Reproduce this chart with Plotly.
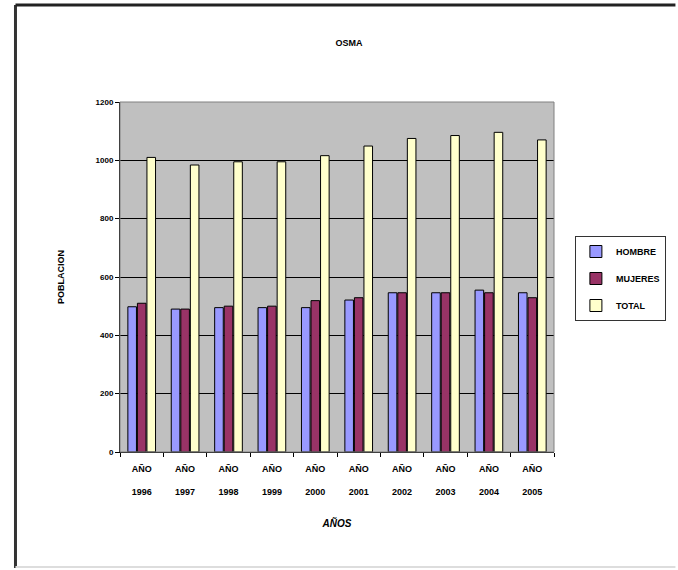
import plotly.graph_objects as go

years = ["1996", "1997", "1998", "1999", "2000", "2001", "2002", "2003", "2004", "2005"]
categories = ["AÑO " + y for y in years]
tick_labels = ["<b>AÑO</b><br>\u00a0<br><b>" + y + "</b>" for y in years]
hombre = [498, 490, 495, 495, 495, 521, 546, 546, 555, 546]
mujeres = [510, 490, 500, 500, 519, 529, 546, 546, 546, 529]
total = [1010, 984, 995, 995, 1016, 1049, 1075, 1085, 1096, 1070]

FONT = "Liberation Sans"
fig = go.Figure()
fig.add_trace(go.Bar(name="<b>HOMBRE</b>", x=categories, y=hombre, legendgroup="h",
                     marker=dict(color="#9999FF", line=dict(color="black", width=1))))
fig.add_trace(go.Bar(name="<b>MUJERES</b>", x=categories, y=mujeres, legendgroup="m",
                     marker=dict(color="#993366", line=dict(color="black", width=1))))
fig.add_trace(go.Bar(name="<b>TOTAL</b>", x=categories, y=total, legendgroup="t",
                     marker=dict(color="#FFFFCC", line=dict(color="black", width=1))))

W, H = 678, 570
L, R, T, B = 120, 122, 102, 118
pw, ph = W - L - R, H - T - B
def px(x):
    return (x - L) / pw
def py(y):
    return (H - B - y) / ph

fig.update_layout(
    width=W, height=H,
    margin=dict(l=L, r=R, t=T, b=B, pad=0),
    paper_bgcolor="white", plot_bgcolor="#C0C0C0",
    barmode="group", bargap=0.34, bargroupgap=0.1,
    font=dict(family=FONT, size=9, color="black"),
    title=dict(text="<b>OSMA</b>", x=px(350), xref="paper", xanchor="center",
               y=1 - 43 / H, yanchor="middle", font=dict(size=9)),
    showlegend=True,
    legend=dict(x=px(577), y=py(236), xanchor="left", yanchor="top",
                bordercolor="#333333", borderwidth=1, bgcolor="white",
                tracegroupgap=8, traceorder="grouped",
                font=dict(size=9, family=FONT), itemclick=False),
    xaxis=dict(showgrid=False, showline=True, linecolor="black", linewidth=1,
               ticks="outside", tickson="boundaries", ticklen=4, tickcolor="black",
               tickangle=0, tickfont=dict(size=9), ticklabelstandoff=8,
               tickvals=categories, ticktext=tick_labels,
               title=dict(text="<b><i>AÑOS</i></b>", font=dict(size=10), standoff=23),
               mirror=False),
    yaxis=dict(range=[0, 1200], dtick=200, showgrid=True, gridcolor="black", gridwidth=1,
               showline=True, linecolor="black", linewidth=1, ticks="outside",
               ticklen=4, tickcolor="black", tickfont=dict(size=8), zeroline=False,
               tickprefix="<b>", ticksuffix="</b>",
               title=dict(text="<b>POBLACION</b>", font=dict(size=9), standoff=29)),
    shapes=[
        dict(type="rect", xref="paper", yref="paper", x0=0, y0=0, x1=1, y1=1,
             line=dict(color="#808080", width=1), layer="above"),
        dict(type="line", xref="paper", yref="paper", x0=px(15), x1=px(15),
             y0=py(5), y1=py(568), line=dict(color="#333333", width=3)),
        dict(type="line", xref="paper", yref="paper", x0=px(15), x1=px(678),
             y0=py(5), y1=py(5), line=dict(color="#222222", width=3)),
        dict(type="line", xref="paper", yref="paper", x0=px(15), x1=px(678),
             y0=py(567), y1=py(567), line=dict(color="#DDDDDD", width=2)),
    ],
)

fig.write_html("out.html", config={"displayModeBar": False},
               post_script="document.body.style.margin='0px';")
